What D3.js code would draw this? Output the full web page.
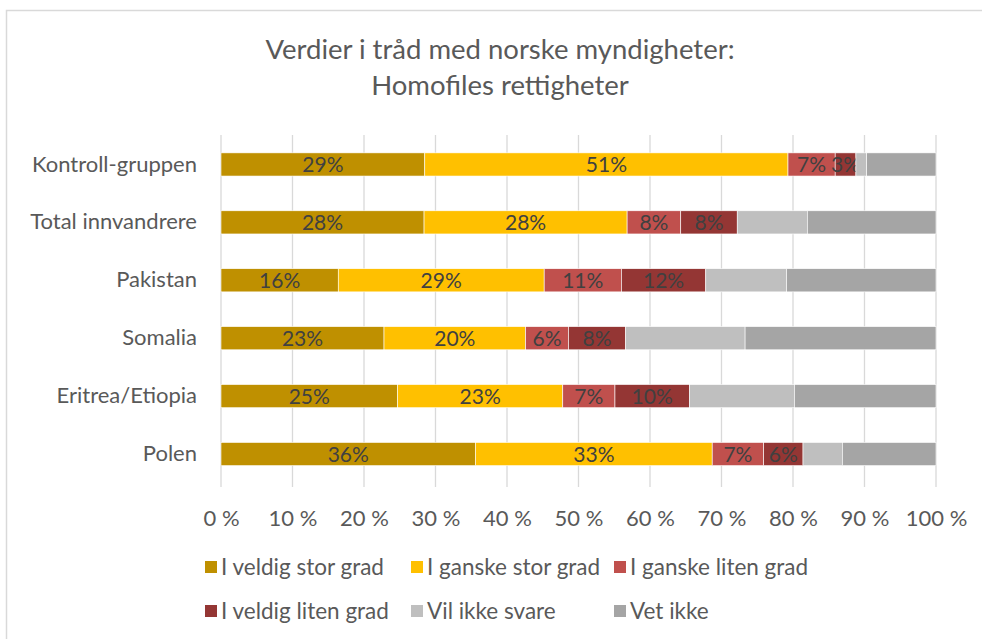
<!DOCTYPE html>
<html>
<head>
<meta charset="UTF-8">
<title>Homofiles rettigheter</title>
<script src="https://d3js.org/d3.v7.min.js"></script>
<style>
  body { margin: 0; background: #fff; }
  text { font-family: Lato, "Open Sans", sans-serif; }
</style>
</head>
<body>
<script>
  // categories, top to bottom
  const categories = ["Kontroll-gruppen", "Total innvandrere", "Pakistan", "Somalia", "Eritrea/Etiopia", "Polen"]
  const seriesNames = ["I veldig stor grad", "I ganske stor grad", "I ganske liten grad", "I veldig liten grad", "Vil ikke svare", "Vet ikke"]
  const seriesColors = ["#BF9000", "#FFC000", "#C0504D", "#943634", "#BFBFBF", "#A5A5A5"]

  // share in percent, one array per series (same order as categories)
  const veldigStor  = [28.5, 28.4, 16.4, 22.8, 24.7, 35.6]
  const ganskeStor  = [50.8, 28.4, 28.8, 19.8, 23.1, 33.1]
  const ganskeLiten = [6.6, 7.5, 10.8, 6.0, 7.3, 7.2]
  const veldigLiten = [2.9, 7.9, 11.8, 8.0, 10.4, 5.5]
  const vilIkke     = [1.5, 9.8, 11.3, 16.7, 14.7, 5.5]
  const vetIkke     = [9.7, 18.0, 20.9, 26.7, 19.8, 13.1]
  const allSeries = [veldigStor, ganskeStor, ganskeLiten, veldigLiten, vilIkke, vetIkke]

  // only the first four series carry a data label
  const labelled = [true, true, true, true, false, false]

  const xTicks = [0, 10, 20, 30, 40, 50, 60, 70, 80, 90, 100]

  const rows = categories.map((c, i) => {
    let r = { cat: c }
    seriesNames.forEach((s, j) => r[s] = allSeries[j][i])
    return r
  })

  const width = 982, height = 639

  const svg = d3.select("body").append("svg")
    .attr("width", width)
    .attr("height", height)

  // chart frame
  svg.append("rect")
    .attr("x", 6.5).attr("y", 10.5)
    .attr("width", width + 10).attr("height", height + 10)
    .attr("fill", "none")
    .attr("stroke", "#d9d9d9")
    .attr("stroke-width", 1.5)

  const x = d3.scaleLinear().domain([0, 100]).range([221, 936])
  const y = d3.scaleBand().domain(categories).range([135.5, 483])
    .paddingInner(0.6).paddingOuter(0.3)
  const color = d3.scaleOrdinal().domain(seriesNames).range(seriesColors)

  // title
  const title = svg.append("text")
    .attr("text-anchor", "middle")
    .attr("fill", "#595959")
    .style("font-size", "27.5px")
  title.append("tspan").attr("x", 500).attr("y", 59).text("Verdier i tråd med norske myndigheter:")
  title.append("tspan").attr("x", 500).attr("y", 95).text("Homofiles rettigheter")

  // gridlines
  svg.append("g")
    .selectAll("line")
    .data(xTicks).enter()
    .append("line")
    .attr("x1", d => x(d)).attr("x2", d => x(d))
    .attr("y1", 135).attr("y2", 487)
    .attr("stroke", "#d9d9d9")
    .attr("stroke-width", 1.3)

  // x axis labels
  const xAxis = svg.append("g")
    .attr("transform", "translate(0, 483)")
    .call(d3.axisBottom(x).tickValues(xTicks).tickSize(0).tickPadding(27).tickFormat(d => d + " %"))
  xAxis.select(".domain").remove()
  xAxis.selectAll("text")
    .attr("fill", "#595959")
    .style("font-size", "22px")
    .style("font-family", "Lato, sans-serif")

  // category labels
  const yAxis = svg.append("g")
    .attr("transform", "translate(221, 0)")
    .call(d3.axisLeft(y).tickSize(0).tickPadding(24))
  yAxis.select(".domain").remove()
  yAxis.selectAll("text")
    .attr("fill", "#595959")
    .style("font-size", "22px")
    .style("font-family", "Lato, sans-serif")

  // stacked bars
  const stacked = d3.stack().keys(seriesNames)(rows)

  const layers = svg.append("g")
    .selectAll("g")
    .data(stacked).enter()
    .append("g")
    .attr("fill", d => color(d.key))

  layers.selectAll("rect")
    .data(d => d).enter()
    .append("rect")
    .attr("x", d => x(d[0]))
    .attr("y", d => y(d.data.cat))
    .attr("width", d => x(d[1]) - x(d[0]))
    .attr("height", y.bandwidth())
    .attr("stroke", "#fff")
    .attr("stroke-width", 0.6)

  // data labels
  layers.filter((d, i) => labelled[i])
    .selectAll("text")
    .data(d => d).enter()
    .append("text")
    .attr("x", d => (x(d[0]) + x(d[1])) / 2)
    .attr("y", d => y(d.data.cat) + y.bandwidth() / 2)
    .attr("dy", "0.36em")
    .attr("text-anchor", "middle")
    .attr("fill", "#404040")
    .style("font-size", "21px")
    .text(d => Math.round(d[1] - d[0]) + "%")

  // legend
  const legendPos = [[205, 567], [411, 567], [614, 567], [205, 611], [411, 611], [614, 611]]
  const legend = svg.append("g")
    .selectAll("g")
    .data(seriesNames).enter()
    .append("g")
    .attr("transform", (d, i) => "translate(" + legendPos[i][0] + ", " + legendPos[i][1] + ")")

  legend.append("rect")
    .attr("x", 0).attr("y", -6)
    .attr("width", 12).attr("height", 12)
    .attr("fill", d => color(d))

  legend.append("text")
    .attr("x", 16)
    .attr("dy", "0.36em")
    .attr("fill", "#595959")
    .style("font-size", "22.5px")
    .text(d => d)
</script>
</body>
</html>
